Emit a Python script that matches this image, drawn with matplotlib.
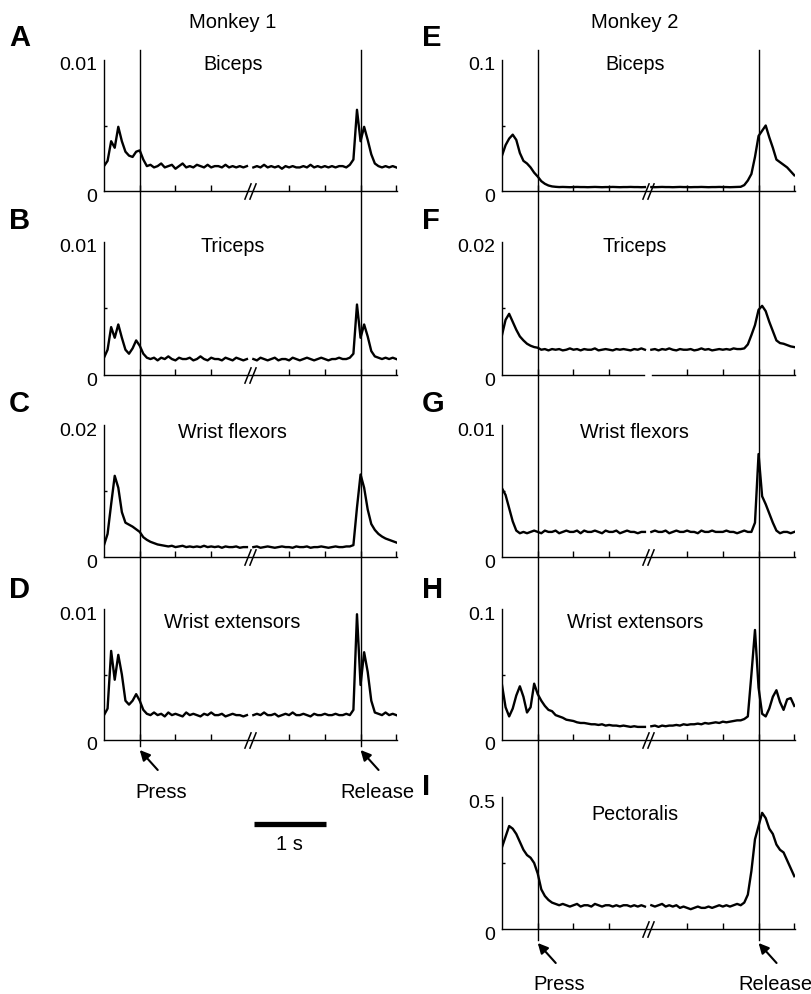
import numpy as np
import matplotlib.pyplot as plt
from matplotlib.lines import Line2D
from matplotlib.path import Path
from matplotlib import transforms
from matplotlib.transforms import offset_copy

plt.rcParams['font.family'] = ['Liberation Sans', 'DejaVu Sans']

W, H, DPI = 812, 994, 100

# sample times (s): press-aligned piece and release-aligned piece
t_press = np.round(np.arange(-0.5, 1.5001, 0.05), 2)
t_release = np.round(np.arange(-1.5, 0.5001, 0.05), 2)
REL = 3.09  # position of release on the shared time axis

letters = ['A', 'B', 'C', 'D', 'E', 'F', 'G', 'H', 'I']
muscles = ['Biceps', 'Triceps', 'Wrist flexors', 'Wrist extensors',
           'Biceps', 'Triceps', 'Wrist flexors', 'Wrist extensors', 'Pectoralis']
y_top = [0.01, 0.01, 0.02, 0.01, 0.1, 0.02, 0.01, 0.1, 0.5]
y_top_labels = ['0.01', '0.01', '0.02', '0.01', '0.1', '0.02', '0.01', '0.1', '0.5']
units = [1e-3, 1e-3, 1e-3, 1e-3, 1e-2, 1e-3, 1e-3, 1e-2, 1.0]
cols = [0, 0, 0, 0, 1, 1, 1, 1, 1]
rows = [0, 1, 2, 3, 0, 1, 2, 3, 4]

# Monkey 1 (values in units above)
A_press = [1.9, 2.3, 3.8, 3.3, 4.9, 3.8, 3.0, 2.7, 2.6, 3.0,
           3.1, 2.4, 1.9, 2.0, 1.8, 1.9, 2.1, 1.8, 1.9, 2.0,
           1.7, 1.9, 2.1, 1.8, 1.9, 1.8, 2.0, 1.9, 1.8, 2.0,
           1.8, 1.9, 1.9, 1.8, 2.0, 1.8, 1.9, 1.8, 1.9, 1.8,
           1.9]
A_release = [1.8, 1.9, 1.8, 2.0, 1.8, 1.9, 1.8, 1.9, 1.7, 1.9,
             1.8, 1.9, 1.8, 1.8, 1.9, 1.8, 2.0, 1.8, 1.9, 1.8,
             1.9, 1.8, 1.9, 1.8, 1.9, 1.9, 1.8, 2.0, 2.4, 6.2,
             3.8, 4.9, 3.9, 2.8, 2.1, 1.9, 1.8, 1.9, 1.8, 1.9,
             1.8]
B_press = [1.3, 1.9, 3.6, 2.8, 3.8, 2.8, 1.9, 1.6, 2.0, 2.6,
           2.2, 1.6, 1.3, 1.2, 1.3, 1.1, 1.3, 1.2, 1.4, 1.2,
           1.1, 1.3, 1.2, 1.2, 1.3, 1.1, 1.2, 1.4, 1.2, 1.1,
           1.3, 1.2, 1.2, 1.1, 1.3, 1.2, 1.1, 1.3, 1.2, 1.1,
           1.2]
B_release = [1.2, 1.1, 1.3, 1.2, 1.1, 1.2, 1.3, 1.1, 1.2, 1.2,
             1.1, 1.3, 1.2, 1.1, 1.2, 1.3, 1.2, 1.1, 1.2, 1.3,
             1.2, 1.1, 1.2, 1.2, 1.3, 1.2, 1.2, 1.3, 1.6, 5.3,
             2.8, 3.8, 2.9, 1.8, 1.4, 1.3, 1.2, 1.3, 1.2, 1.3,
             1.2]
C_press = [1.8, 3.5, 8.0, 12.3, 10.5, 6.8, 5.2, 4.9, 4.6, 4.2,
           3.8, 3.0, 2.6, 2.3, 2.1, 1.9, 1.8, 1.7, 1.6, 1.7,
           1.5, 1.6, 1.7, 1.5, 1.6, 1.5, 1.6, 1.5, 1.7, 1.5,
           1.6, 1.5, 1.6, 1.4, 1.6, 1.5, 1.5, 1.6, 1.4, 1.5,
           1.5]
C_release = [1.5, 1.6, 1.4, 1.5, 1.6, 1.5, 1.4, 1.5, 1.6, 1.5,
             1.5, 1.4, 1.6, 1.5, 1.5, 1.6, 1.4, 1.5, 1.5, 1.6,
             1.5, 1.4, 1.5, 1.6, 1.5, 1.5, 1.6, 1.6, 1.8, 7.5,
             12.5, 10.5, 7.2, 5.0, 4.1, 3.5, 3.1, 2.8, 2.6, 2.4,
             2.2]
D_press = [1.9, 2.4, 6.8, 4.6, 6.5, 5.0, 3.0, 2.7, 3.0, 3.5,
           3.0, 2.3, 2.0, 1.9, 2.1, 1.9, 2.0, 1.8, 2.1, 1.9,
           2.0, 1.9, 1.8, 2.1, 1.9, 2.0, 1.9, 1.8, 2.0, 1.9,
           2.1, 1.9, 1.9, 2.0, 1.8, 1.9, 2.0, 1.9, 1.9, 1.8,
           1.9]
D_release = [1.9, 2.0, 1.9, 2.1, 1.9, 1.9, 2.0, 1.8, 1.9, 2.0,
             1.9, 2.1, 1.9, 1.9, 2.0, 1.9, 1.8, 2.0, 1.9, 1.9,
             2.0, 1.9, 1.9, 2.0, 1.9, 1.9, 2.0, 1.9, 2.3, 9.6,
             4.2, 6.7, 5.2, 3.0, 2.1, 2.0, 1.9, 2.1, 1.9, 2.0,
             1.9]

# Monkey 2
E_press = [2.7, 3.5, 4.0, 4.3, 3.9, 2.9, 2.3, 2.1, 1.8, 1.4,
           1.1, 0.75, 0.55, 0.42, 0.35, 0.32, 0.30, 0.31, 0.30, 0.29,
           0.30, 0.31, 0.30, 0.30, 0.29, 0.30, 0.31, 0.30, 0.29, 0.30,
           0.30, 0.31, 0.30, 0.29, 0.30, 0.30, 0.31, 0.30, 0.30, 0.29,
           0.30]
E_release = [0.30, 0.29, 0.30, 0.31, 0.30, 0.30, 0.29, 0.30, 0.31, 0.30,
             0.30, 0.29, 0.30, 0.30, 0.31, 0.30, 0.29, 0.30, 0.30, 0.31,
             0.30, 0.30, 0.29, 0.30, 0.31, 0.32, 0.45, 0.80, 1.3, 2.6,
             4.2, 4.6, 5.0, 4.1, 3.3, 2.4, 2.2, 2.0, 1.8, 1.5,
             1.2]
F_press = [6.0, 8.3, 9.2, 8.0, 6.8, 5.8, 5.2, 4.7, 4.4, 4.2,
           4.1, 3.8, 3.9, 3.7, 3.9, 3.8, 3.9, 3.7, 3.8, 4.0,
           3.8, 3.9, 3.7, 3.9, 3.8, 3.8, 4.0, 3.7, 3.8, 3.9,
           3.8, 3.7, 3.9, 3.8, 3.9, 3.8, 3.7, 3.9, 3.8, 4.0,
           3.8]
F_release = [3.8, 3.9, 3.7, 3.9, 3.8, 4.0, 3.8, 3.7, 3.9, 3.8,
             3.8, 3.9, 3.7, 3.8, 4.0, 3.8, 3.9, 3.7, 3.8, 3.9,
             3.8, 3.9, 3.8, 4.0, 3.9, 3.9, 4.0, 4.6, 6.0, 7.5,
             9.8, 10.4, 9.6, 8.0, 6.6, 5.2, 4.8, 4.7, 4.5, 4.3,
             4.2]
G_press = [5.2, 4.7, 3.7, 2.7, 2.0, 1.8, 1.9, 1.8, 1.9, 2.0,
           1.9, 1.8, 2.0, 1.9, 1.9, 2.0, 1.8, 1.9, 2.0, 1.9,
           1.9, 2.0, 1.8, 2.0, 1.9, 1.9, 2.0, 1.9, 1.8, 2.0,
           1.9, 1.9, 2.0, 1.8, 1.9, 2.0, 1.9, 1.9, 1.8, 1.9,
           1.9]
G_release = [1.9, 2.0, 1.9, 1.9, 2.0, 1.8, 1.9, 2.0, 1.9, 1.9,
             2.0, 1.9, 1.9, 1.8, 2.0, 1.9, 1.9, 2.0, 1.9, 1.9,
             1.9, 2.0, 1.9, 1.9, 1.8, 1.9, 2.0, 1.9, 1.9, 2.6,
             7.8, 4.6, 4.0, 3.3, 2.6, 2.0, 1.8, 1.9, 1.9, 1.8,
             1.9]
H_press = [4.2, 2.5, 1.8, 2.4, 3.4, 4.1, 3.3, 2.1, 2.5, 4.3,
           3.5, 3.0, 2.6, 2.3, 2.2, 1.9, 1.8, 1.7, 1.55, 1.5,
           1.45, 1.35, 1.3, 1.3, 1.25, 1.2, 1.2, 1.15, 1.2, 1.1,
           1.15, 1.1, 1.1, 1.05, 1.1, 1.05, 1.0, 1.05, 1.0, 1.0,
           1.0]
H_release = [1.05, 1.1, 1.0, 1.1, 1.05, 1.1, 1.1, 1.15, 1.1, 1.2,
             1.15, 1.2, 1.2, 1.25, 1.2, 1.3, 1.25, 1.3, 1.35, 1.3,
             1.4, 1.35, 1.4, 1.45, 1.5, 1.5, 1.6, 1.8, 5.0, 8.4,
             4.0, 2.0, 1.8, 2.4, 3.3, 3.8, 2.9, 2.3, 3.1, 3.2,
             2.6]
I_press = [0.31, 0.35, 0.39, 0.38, 0.36, 0.33, 0.30, 0.28, 0.27, 0.25,
           0.21, 0.15, 0.125, 0.11, 0.10, 0.095, 0.09, 0.095, 0.09, 0.085,
           0.09, 0.095, 0.085, 0.09, 0.09, 0.085, 0.095, 0.09, 0.085, 0.09,
           0.09, 0.085, 0.09, 0.085, 0.09, 0.09, 0.085, 0.09, 0.085, 0.09,
           0.085]
I_release = [0.09, 0.085, 0.09, 0.095, 0.085, 0.09, 0.085, 0.09, 0.08, 0.085,
             0.08, 0.075, 0.08, 0.085, 0.08, 0.08, 0.085, 0.08, 0.085, 0.09,
             0.085, 0.09, 0.085, 0.09, 0.095, 0.09, 0.10, 0.13, 0.22, 0.34,
             0.39, 0.44, 0.42, 0.38, 0.36, 0.32, 0.30, 0.29, 0.26, 0.23,
             0.20]

press_traces = [A_press, B_press, C_press, D_press, E_press, F_press, G_press, H_press, I_press]
release_traces = [A_release, B_release, C_release, D_release, E_release,
                  F_release, G_release, H_release, I_release]

# layout in pixels
col_x0 = [104, 502]
ax_w = 293
row_top = [60, 242, 425, 609, 797]
row_bot = [191, 375, 557, 740, 929]
title_drop = [5, 5, 8, 14, 18]
title_x = [1.30, 1.36]
letter_y = [38, 221, 404, 590, 787]
letter_x = [9, 422]

# the little "//" axis-break glyph
brk = Path([(-0.35, -0.5), (0.05, 0.5), (-0.05, -0.5), (0.35, 0.5)],
           [Path.MOVETO, Path.LINETO, Path.MOVETO, Path.LINETO])

fig = plt.figure(figsize=(W / DPI, H / DPI), dpi=DPI)
col_axes = [[], []]

for i in range(9):
    c, r = cols[i], rows[i]
    ax = fig.add_axes([col_x0[c] / W, 1 - row_bot[r] / H, ax_w / W,
                       (row_bot[r] - row_top[r]) / H])
    col_axes[c].append(ax)
    sc = units[i]
    ax.plot(t_press, np.array(press_traces[i]) * sc, color='k', lw=1.7)
    ax.plot(t_release + REL, np.array(release_traces[i]) * sc, color='k', lw=1.7)
    ax.set_xlim(-0.5, REL + 0.51)
    ax.set_ylim(0, y_top[i])
    for s in ['top', 'right']:
        ax.spines[s].set_visible(False)
    for s in ['left', 'bottom']:
        ax.spines[s].set_linewidth(1.0)
    ax.set_xticks([0, 0.5, 1.0, REL - 1, REL - 0.5, REL, REL + 0.5])
    ax.set_yticks([y_top[i] / 2])
    ax.tick_params(axis='x', direction='in', length=4, width=1.0, labelbottom=False)
    ax.tick_params(axis='y', direction='in', length=2.2, width=1.0, labelleft=False)
    ax.patch.set_visible(False)

    lab_tr = offset_copy(ax.transData, fig=fig, x=-7, y=-6, units='dots')
    ax.text(-0.5, 0, '0', transform=lab_tr, ha='right', va='center', fontsize=14, clip_on=False)
    ax.text(-0.5, y_top[i], y_top_labels[i], transform=lab_tr, ha='right', va='center',
            fontsize=14, clip_on=False)

    ax.text(title_x[c], 1 - title_drop[r] / (row_bot[r] - row_top[r]), muscles[i],
            transform=transforms.blended_transform_factory(ax.transData, ax.transAxes),
            ha='center', va='center', fontsize=14.2)

    if letters[i] == 'F':
        # Triceps of monkey 2: axis simply interrupted
        ax.spines['bottom'].set_visible(False)
        ax.plot([-0.5, 1.49], [0, 0], color='k', lw=1.0, clip_on=False)
        ax.plot([1.595, REL + 0.51], [0, 0], color='k', lw=1.0, clip_on=False)
    else:
        ax.plot([1.54], [0], marker=brk, markersize=12, color='k', mfc='none',
                mew=1.1, clip_on=False, zorder=5)

    fig.text(letter_x[c] / W, 1 - letter_y[r] / H, letters[i], ha='left', va='center',
             fontsize=21, fontweight='bold')

fig.text(233 / W, 1 - 23 / H, 'Monkey 1', ha='center', va='center', fontsize=14.5)
fig.text(635 / W, 1 - 23 / H, 'Monkey 2', ha='center', va='center', fontsize=14.5)

# press / release lines running through each column
line_bottom = [746, 940]
for c in range(2):
    axb = col_axes[c][-1]
    tr = transforms.blended_transform_factory(axb.transData, fig.transFigure)
    for xe in [0, REL]:
        fig.add_artist(Line2D([xe, xe], [1 - 50 / H, 1 - line_bottom[c] / H],
                              transform=tr, color='k', lw=1.0))

# arrows and event names under the last panel of each column
head_drop = [10, 14]
text_drop = [52, 56]
for c in range(2):
    axb = col_axes[c][-1]
    head_tr = offset_copy(axb.transData, fig=fig, x=0, y=-head_drop[c], units='dots')
    for xe, name, dx in [(0, 'Press', 21), (REL, 'Release', 17)]:
        axb.annotate('', xy=(xe, 0), xycoords=head_tr, xytext=(18, -20),
                     textcoords='offset pixels',
                     arrowprops=dict(arrowstyle='-|>', color='k', lw=1.5,
                                     mutation_scale=15, shrinkA=0, shrinkB=0))
        axb.text(xe, 0, name, ha='center', va='center', fontsize=14.5,
                 transform=offset_copy(axb.transData, fig=fig, x=dx, y=-text_drop[c], units='dots'))

# 1 s scale bar below Monkey 1
axd = col_axes[0][-1]
axd.plot([1.6, 2.6], [0, 0], color='k', lw=3.8, solid_capstyle='butt', clip_on=False,
         transform=offset_copy(axd.transData, fig=fig, x=0, y=-84, units='dots'))
axd.text(2.1, 0, '1 s', ha='center', va='center', fontsize=14.5,
         transform=offset_copy(axd.transData, fig=fig, x=0, y=-104, units='dots'))

fig.savefig('out.png', dpi=DPI)
